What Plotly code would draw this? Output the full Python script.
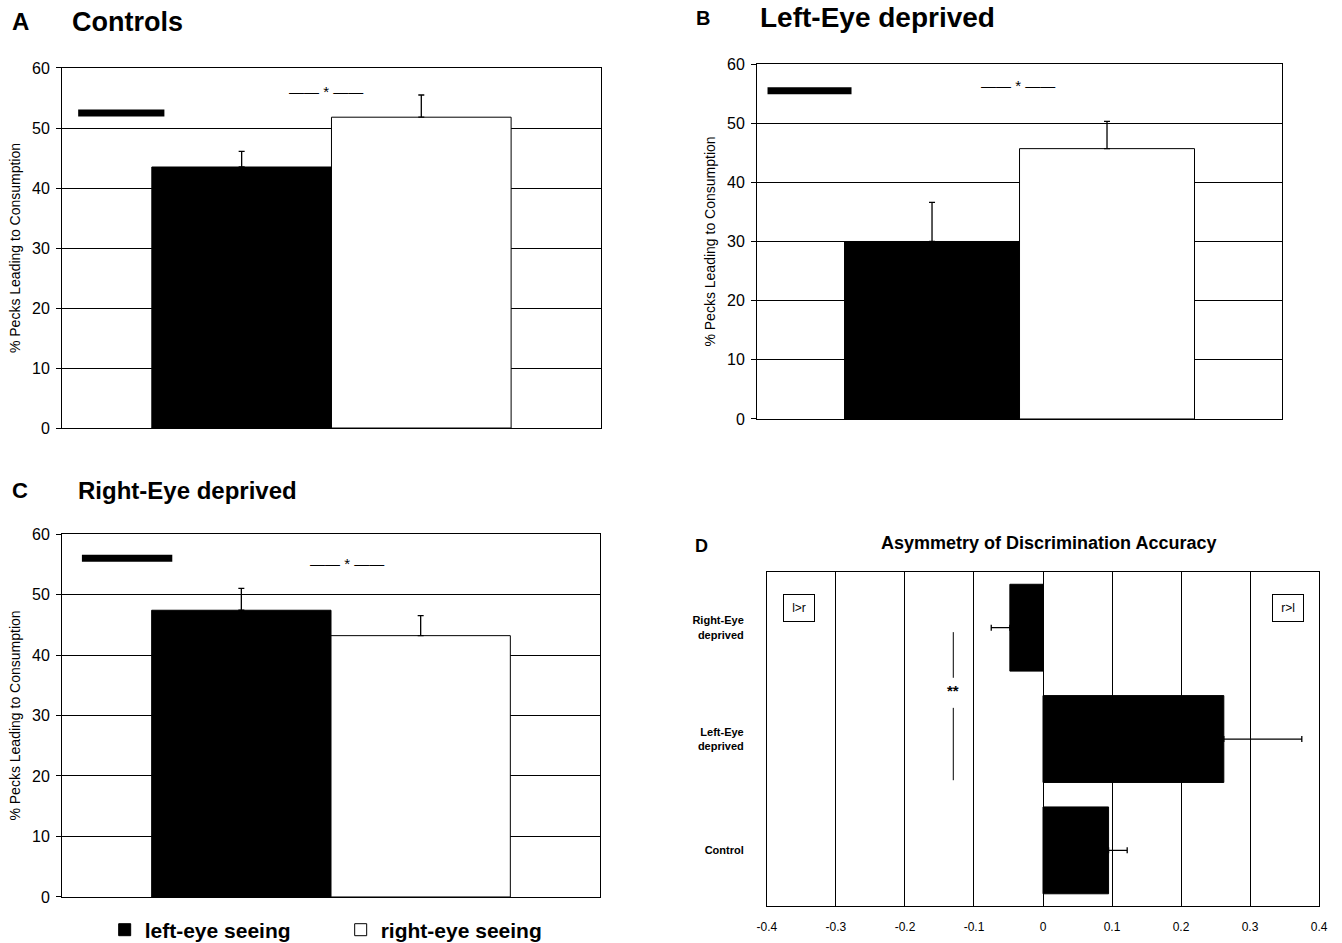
import plotly.graph_objects as go

# ---- data ----
groups = ["left-eye seeing", "right-eye seeing"]
bar_pos = [1, 2]
controls_vals = [43.5, 51.8]
controls_err = [2.6, 3.7]
lefteye_vals = [30.0, 45.7]
lefteye_err = [6.6, 4.6]
righteye_vals = [47.4, 43.2]
righteye_err = [3.6, 3.3]
y_ticks = [0, 10, 20, 30, 40, 50, 60]

asym_cats = ["<b>Control</b>", "<b>Left-Eye<br>deprived</b>", "<b>Right-Eye<br>deprived</b>"]
asym_vals = [0.095, 0.262, -0.048]
asym_err_plus = [0.027, 0.113, 0.0]
asym_err_minus = [0.0, 0.0, 0.027]
asym_ticks = [-0.4, -0.3, -0.2, -0.1, 0, 0.1, 0.2, 0.3, 0.4]
asym_ticklabels = ["-0.4", "-0.3", "-0.2", "-0.1", "0", "0.1", "0.2", "0.3", "0.4"]

FONT = "Liberation Sans, Arial, sans-serif"
fills = ["black", "white"]

fig = go.Figure()

panels = [
    ("x", "y", controls_vals, controls_err, False),
    ("x2", "y2", lefteye_vals, lefteye_err, False),
    ("x3", "y3", righteye_vals, righteye_err, True),
]
for xa, ya, vals, errs, show in panels:
    for i in range(2):
        fig.add_trace(go.Bar(
            x=[bar_pos[i]], y=[vals[i]], width=1.0,
            marker=dict(color=fills[i], line=dict(color="black", width=1)),
            error_y=dict(type="data", symmetric=False, array=[errs[i]], arrayminus=[0],
                         color="black", thickness=1.3, width=3),
            name=groups[i], showlegend=show, xaxis=xa, yaxis=ya,
        ))

fig.add_trace(go.Bar(
    y=[0, 1, 2], x=asym_vals, orientation="h", width=0.78,
    marker=dict(color="black", line=dict(color="black", width=1)),
    error_x=dict(type="data", symmetric=False, array=asym_err_plus, arrayminus=asym_err_minus,
                 color="black", thickness=1.3, width=3),
    showlegend=False, xaxis="x4", yaxis="y4",
))

ytitle = dict(text="% Pecks Leading to Consumption", standoff=8,
              font=dict(family=FONT, size=14, color="black"))
common_y = dict(range=[0, 60], tickvals=y_ticks, showgrid=True, gridcolor="black", gridwidth=1,
                showline=True, linecolor="black", linewidth=1, mirror=True, ticks="outside",
                ticklen=5, tickcolor="black", tickfont=dict(family=FONT, size=16, color="black"),
                ticklabelstandoff=3, zeroline=False, title=ytitle, automargin=False)
common_x = dict(range=[0, 3], showticklabels=False, showgrid=False, zeroline=False,
                showline=True, linecolor="black", linewidth=1, mirror=True, ticks="",
                automargin=False)

fig.update_layout(
    width=1342, height=943, margin=dict(l=0, r=0, t=0, b=0, autoexpand=False),
    paper_bgcolor="white", plot_bgcolor="white", barmode="overlay",
    font=dict(family=FONT, color="black"),
    xaxis=dict(domain=[0.0462, 0.4478], anchor="y", **common_x),
    yaxis=dict(domain=[0.5461, 0.9279], anchor="x", **common_y),
    xaxis2=dict(domain=[0.5641, 0.9553], anchor="y2", **common_x),
    yaxis2=dict(domain=[0.5557, 0.9321], anchor="x2", **common_y),
    xaxis3=dict(domain=[0.0462, 0.4471], anchor="y3", **common_x),
    yaxis3=dict(domain=[0.0488, 0.4337], anchor="x3", **common_y),
    xaxis4=dict(domain=[0.5715, 0.9829], anchor="y4", range=[-0.4, 0.4], tickvals=asym_ticks,
                ticktext=asym_ticklabels, showgrid=True, gridcolor="black", gridwidth=1,
                zeroline=True, zerolinecolor="black", zerolinewidth=1,
                showline=True, linecolor="black", linewidth=1, mirror=True, ticks="",
                ticklabelstandoff=10, automargin=False,
                tickfont=dict(family=FONT, size=12, color="black")),
    yaxis4=dict(domain=[0.0392, 0.3934], anchor="x4", range=[-0.5, 2.5], tickvals=[0, 1, 2],
                ticktext=asym_cats, showgrid=False, zeroline=False,
                showline=True, linecolor="black", linewidth=1, mirror=True, ticks="",
                ticklabelstandoff=20, automargin=False,
                tickfont=dict(family=FONT, size=11, color="black")),
    legend=dict(orientation="h", x=0.078, y=-0.008, xanchor="left", yanchor="bottom",
                font=dict(family=FONT, size=21, color="black", weight="bold"),
                entrywidth=191, entrywidthmode="pixels", itemwidth=30,
                bgcolor="rgba(0,0,0,0)"),
)

anns = []
def title(x, y, text, size=25):
    anns.append(dict(x=x, y=y, xref="paper", yref="paper", text=f"<b>{text}</b>", showarrow=False,
                     xanchor="left", yanchor="middle", font=dict(family=FONT, size=size, color="black")))

title(10 / 1342, 1 - 22 / 943, "A", 24)
title(70 / 1342, 1 - 22 / 943, "Controls", 27)
title(694 / 1342, 1 - 18 / 943, "B", 20)
title(758 / 1342, 1 - 18 / 943, "Left-Eye deprived", 28)
title(10 / 1342, 1 - 490 / 943, "C", 22)
title(76 / 1342, 1 - 490 / 943, "Right-Eye deprived", 24)
title(693 / 1342, 1 - 546 / 943, "D", 18)
anns.append(dict(x=1048 / 1342, y=1 - 543 / 943, xref="paper", yref="paper",
                 text="<b>Asymmetry of Discrimination Accuracy</b>", showarrow=False,
                 xanchor="center", yanchor="middle",
                 font=dict(family=FONT, size=18, color="black")))

# significance markers
for xr, yr, xv, yv in [("x", "y", 1.47, 56.0), ("x2", "y2", 1.49, 56.4), ("x3", "y3", 1.59, 55.2)]:
    anns.append(dict(x=xv, y=yv, xref=xr, yref=yr, text="—— * ——", showarrow=False,
                     font=dict(family=FONT, size=15, color="black")))

# panel D annotations
anns.append(dict(x=-0.13, y=1.44, xref="x4", yref="y4", text="<b>**</b>", showarrow=False,
                 font=dict(family=FONT, size=15, color="black")))
for xv, txt in [(-0.354, "l>r"), (0.355, "r>l")]:
    anns.append(dict(x=xv, y=2.18, xref="x4", yref="y4", text=txt, showarrow=False,
                     font=dict(family=FONT, size=12, color="black"),
                     bordercolor="black", borderwidth=1, borderpad=6, bgcolor="white", width=18))
fig.update_layout(annotations=anns)

shapes = []
# legend remnant thick lines
for xr, yr, x0, x1, yv in [("x domain", "y", 0.03, 0.19, 52.5), ("x2 domain", "y2", 0.02, 0.18, 55.5),
                            ("x3 domain", "y3", 0.037, 0.205, 56.0)]:
    shapes.append(dict(type="line", xref=xr, yref=yr, x0=x0, x1=x1, y0=yv, y1=yv,
                       line=dict(color="black", width=7)))
# ** brackets
for y0, y1 in [(1.96, 1.55), (1.28, 0.63)]:
    shapes.append(dict(type="line", xref="x4", yref="y4", x0=-0.13, x1=-0.13, y0=y0, y1=y1,
                       line=dict(color="black", width=1)))
fig.update_layout(shapes=shapes)

fig.write_html("out.html")
